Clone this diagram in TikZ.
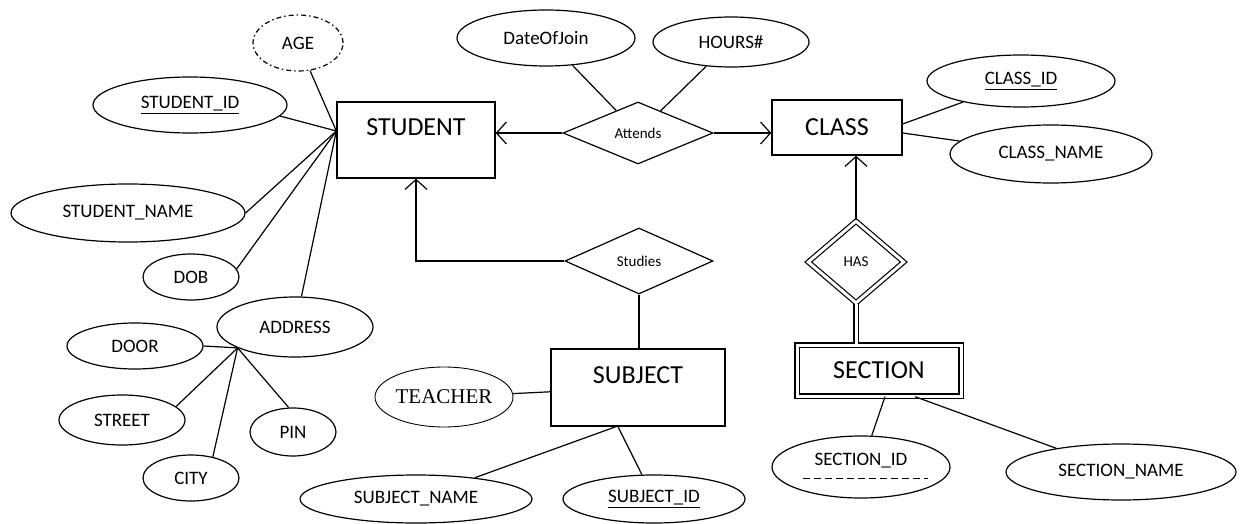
\documentclass[tikz,border=0pt]{standalone}
\usepackage{fontspec}
\setmainfont{Carlito}
\newfontfamily\teacherfont{Liberation Serif}
\usetikzlibrary{shapes.geometric}
\usetikzlibrary{arrows.meta}

\tikzset{
  attr/.style={draw, ellipse, line width=1.2pt, inner sep=0pt, font=\fontsize{19}{22}\selectfont},
  entity/.style={draw, rectangle, line width=1.3pt, inner sep=0pt, font=\fontsize{26}{30}\selectfont},
  rel/.style={draw, diamond, line width=1.2pt, inner sep=0pt, font=\fontsize{15}{18}\selectfont},
  link/.style={line width=1.2pt},
  arr/.style={link, -{Straight Barb[length=10pt, width=22pt, line width=1.2pt]}},
}
\newcommand{\raisedname}[2]{\raisebox{#1}[0pt][0pt]{#2}}

\begin{document}
\begin{tikzpicture}[x=1pt, y=-1pt]
        \useasboundingbox (0,0) rectangle (1241,524);

        % entities
        \node[entity, minimum width=158pt, minimum height=76pt] (student) at (416,140) {\raisedname{4.6pt}{STUDENT}};
        \node[entity, minimum width=130pt, minimum height=55pt] (class) at (837,127.5) {CLASS};
        \node[entity, minimum width=174pt, minimum height=77pt] (subject) at (638,387.5) {\raisedname{4.1pt}{SUBJECT}};
        \node[entity, double, double distance=3pt, minimum width=164pt, minimum height=51pt] (section) at (879,370.5) {SECTION};

        % relationships
        \node[rel, minimum width=150pt, minimum height=62pt] (attends) at (638,133) {Attends};
        \node[rel, minimum width=148pt, minimum height=66pt] (studies) at (639,261) {Studies};
        \node[rel, double, double distance=3pt, minimum width=96pt, minimum height=82pt] (has) at (856,262) {HAS};

        % attributes of STUDENT
        \node[attr, dash pattern=on 5pt off 3pt on 1.5pt off 3pt, minimum width=90pt, minimum height=56pt] (age) at (298,43) {AGE};
        \node[attr, minimum width=194pt, minimum height=56pt] (stuid) at (190,105) {\underline{STUDENT\_ID}};
        \node[attr, minimum width=234pt, minimum height=58pt] (stuname) at (128,213) {STUDENT\_NAME};
        \node[attr, minimum width=96pt, minimum height=46pt] (dob) at (191,277) {DOB};
        \node[attr, minimum width=156pt, minimum height=60pt] (address) at (295,327) {ADDRESS};
        \node[attr, minimum width=136pt, minimum height=46pt] (door) at (135,346) {DOOR};
        \node[attr, minimum width=126pt, minimum height=50pt] (street) at (122,420) {STREET};
        \node[attr, minimum width=96pt, minimum height=46pt] (city) at (191,478) {CITY};
        \node[attr, minimum width=86pt, minimum height=48pt] (pin) at (293,432) {PIN};

        % attributes of Attends and CLASS
        \node[attr, minimum width=178pt, minimum height=56pt] (dateofjoin) at (546,38) {DateOfJoin};
        \node[attr, minimum width=156pt, minimum height=50pt] (hours) at (731,42) {HOURS\#};
        \node[attr, minimum width=188pt, minimum height=52pt] (classid) at (1021,81) {\underline{CLASS\_ID}};
        \node[attr, minimum width=202pt, minimum height=58pt] (classname) at (1051,154) {CLASS\_NAME};

        % attributes of SUBJECT and SECTION
        \node[attr, line width=0.9pt, minimum width=138pt, minimum height=60pt, font=\teacherfont\fontsize{21}{24}\selectfont] (teacher) at (444,397) {TEACHER};
        \node[attr, minimum width=232pt, minimum height=48pt] (subjname) at (416,499) {SUBJECT\_NAME};
        \node[attr, minimum width=182pt, minimum height=48pt] (subjid) at (654,499) {\underline{SUBJECT\_ID}};
        \node[attr, minimum width=178pt, minimum height=62pt] (secid) at (861,467) {\raisedname{1.5pt}{SECTION\_ID}};
        \node[attr, minimum width=230pt, minimum height=56pt] (secname) at (1121,472) {SECTION\_NAME};
        \draw[line width=1pt, dash pattern=on 7pt off 4pt] ([xshift=-58pt, yshift=-11pt]secid.center) -- ([xshift=67pt, yshift=-11pt]secid.center);

        % student attribute lines
        \coordinate (hub) at ([yshift=9pt]student.west);
        \draw[link] (age) -- (hub);
        \draw[link] (stuid.-7) -- (hub);
        \draw[link] (stuname.east) -- (hub);
        \draw[link] (dob.10) -- (hub);
        \draw[link] (address) -- (hub);

        \coordinate (addrhub) at (address.200);
        \draw[link] (door.east) -- (addrhub);
        \draw[link] (street.14) -- (addrhub);
        \draw[link] (city.44) -- (addrhub);
        \draw[link] (pin.100) -- (addrhub);

        % relationship lines
        \draw[arr] (attends.west) -- (attends.west -| student.east);
        \draw[arr] (attends.east) -- (attends.east -| class.west);
        \draw[link] (dateofjoin) -- (attends);
        \draw[link] (hours) -- (attends);
        \draw[arr] (studies.west) -| (student.south);
        \draw[link] (studies.south) -- (studies.south |- subject.north);
        \draw[arr] (has.north) -- (has.north |- class.south);
        \draw[link, double, double distance=3pt] (has.south) -- (has.south |- section.north);

        % class, subject, section attribute lines
        \draw[link] ([yshift=3.5pt]class.east) -- (classid);
        \draw[link] ([yshift=-5.5pt]class.east) -- (classname);
        \draw[link] (teacher) -- (subject);
        \draw[link] (subjname) -- ([xshift=-22pt]subject.south);
        \draw[link] ([xshift=-20pt]subject.south) -- (subjid);
        \draw[link] ([xshift=6pt]section.south) -- (secid);
        \draw[link] ([xshift=36pt]section.south) -- (secname);
\end{tikzpicture}
\end{document}
